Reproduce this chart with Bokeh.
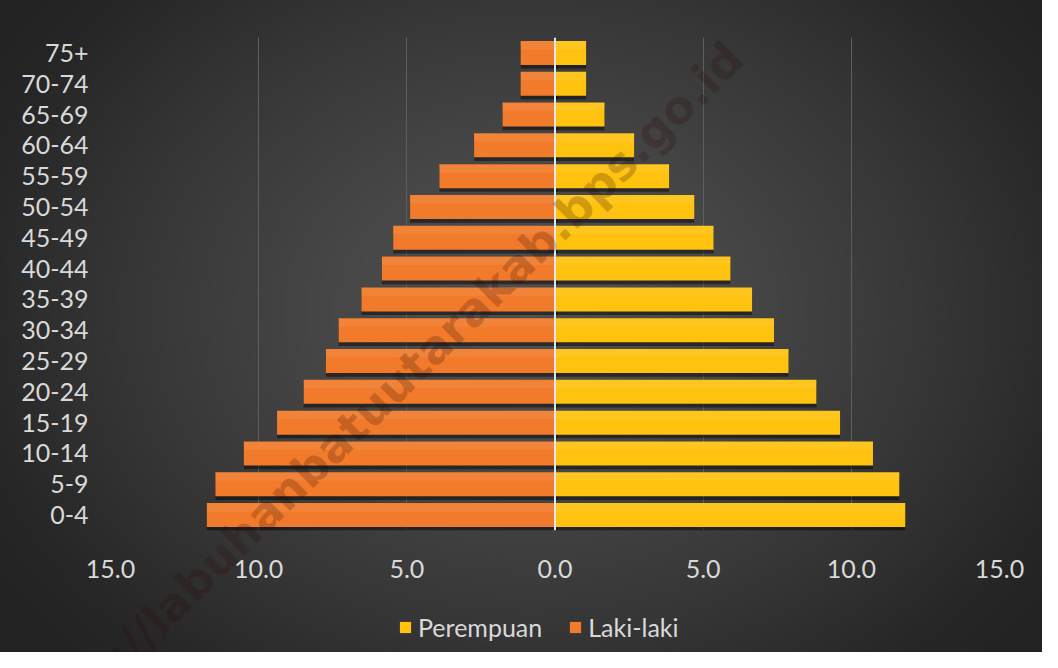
from bokeh.plotting import figure
from bokeh.layouts import column
from bokeh.models import (ColumnDataSource, FactorRange, Range1d, FixedTicker,
                          CustomJSTickFormatter, Span, Legend, LegendItem, Label)
from bokeh.transform import dodge
from bokeh.embed import file_html
from bokeh.resources import INLINE

# ---- data (percent of population) ----
age_groups = ["0-4", "5-9", "10-14", "15-19", "20-24", "25-29", "30-34", "35-39",
              "40-44", "45-49", "50-54", "55-59", "60-64", "65-69", "70-74", "75+"]
laki_laki = [11.75, 11.46, 10.50, 9.38, 8.48, 7.73, 7.30, 6.53,
             5.84, 5.46, 4.89, 3.90, 2.73, 1.77, 1.16, 1.16]
perempuan = [11.82, 11.62, 10.73, 9.62, 8.82, 7.88, 7.39, 6.65,
             5.92, 5.35, 4.70, 3.85, 2.67, 1.67, 1.05, 1.05]
x_ticks = [-15, -10, -5, 0, 5, 10, 15]
series_names = ["Perempuan", "Laki-laki"]
watermark = "https://labuhanbatuutarakab.bps.go.id"

FONT = "Lato"
TXT = "#d9d9d9"
ORANGE = "#f27b2b"
YELLOW = "#ffc20e"
W, H = 1042, 652
LEFT, RIGHT, TOP, BOTTOM = 110, 43, 37, 122

src = ColumnDataSource(dict(
    age=age_groups,
    male_left=[-v for v in laki_laki],
    female_right=perempuan,
))

p = figure(width=W, height=H, output_backend="svg", toolbar_location=None,
           y_range=FactorRange(factors=age_groups, range_padding=0),
           x_range=Range1d(-15, 15))
p.min_border_left = LEFT
p.min_border_right = RIGHT
p.min_border_top = TOP
p.min_border_bottom = BOTTOM
p.background_fill_alpha = 0
p.border_fill_alpha = 0
p.outline_line_color = None
p.styles = {"background": "radial-gradient(ellipse 62% 78% at 51% 48%, #4f4f4f 0%, #474747 30%, #363636 62%, #262626 88%, #222222 100%)"}

# shadows
p.hbar(y=dodge("age", -0.12, range=p.y_range), left="male_left", right=0.08, height=0.78,
       source=src, fill_color="black", fill_alpha=0.45, line_color=None)
p.hbar(y=dodge("age", -0.12, range=p.y_range), left=0, right="female_right", height=0.78,
       source=src, fill_color="black", fill_alpha=0.45, line_color=None)

r_m = p.hbar(y="age", left="male_left", right=0, height=0.78, source=src,
             fill_color=ORANGE, line_color=None)
r_f = p.hbar(y="age", left=0, right="female_right", height=0.78, source=src,
             fill_color=YELLOW, line_color=None)
# subtle top highlight
p.hbar(y=dodge("age", 0.25, range=p.y_range), left="male_left", right=0, height=0.26, source=src,
       fill_color="white", fill_alpha=0.07, line_color=None)
p.hbar(y=dodge("age", 0.25, range=p.y_range), left=0, right="female_right", height=0.26, source=src,
       fill_color="white", fill_alpha=0.07, line_color=None)

p.add_layout(Span(location=0, dimension="height", line_color="#dce6f2", line_width=2))

# axes
p.xaxis.ticker = FixedTicker(ticks=x_ticks)
p.xaxis.formatter = CustomJSTickFormatter(code="return Math.abs(tick).toFixed(1);")
for ax in (p.xaxis[0], p.yaxis[0]):
    ax.axis_line_color = None
    ax.major_tick_line_color = None
    ax.minor_tick_line_color = None
    ax.major_label_text_color = TXT
    ax.major_label_text_font = FONT
    ax.major_label_text_font_size = "25px"
p.xaxis.major_label_standoff = 23
p.yaxis.major_label_standoff = 16

p.ygrid.grid_line_color = None
p.xgrid.ticker = FixedTicker(ticks=[-15, -10, -5, 5, 10, 15])
p.xgrid.grid_line_color = "#5e5e5e"
p.xgrid.grid_line_width = 1

# transparent overlay canvas carrying the legend and the diagonal watermark
ov = figure(width=W, height=H, output_backend="svg", toolbar_location=None,
            x_range=Range1d(0, 1), y_range=Range1d(0, 1),
            x_axis_location=None, y_axis_location=None)
ov.min_border_left = LEFT      # column aligns frame edges with the chart anyway
ov.min_border_right = RIGHT
ov.min_border_top = 0
ov.min_border_bottom = 0
ov.grid.visible = False
ov.background_fill_alpha = 0
ov.border_fill_alpha = 0
ov.outline_line_color = None

# legend proxies (one point each, placed outside the visible range)
lf = ov.hbar(y=[-5], left=[0], right=[0.1], height=0.5, fill_color=YELLOW, line_color=None)
lm = ov.hbar(y=[-5], left=[0], right=[0.1], height=0.5, fill_color=ORANGE, line_color=None)
legend = Legend(items=[LegendItem(label=series_names[0], renderers=[lf]),
                       LegendItem(label=series_names[1], renderers=[lm])],
                orientation="horizontal", location=(398 - LEFT, 10),
                background_fill_alpha=0, border_line_color=None,
                label_text_color=TXT, label_text_font=FONT, label_text_font_size="25px",
                glyph_width=14, glyph_height=14, label_standoff=6, spacing=26,
                padding=0, margin=0)
ov.add_layout(legend, "center")

ov.add_layout(Label(x=375 - LEFT, y=H - 404, x_units="screen", y_units="screen", text=watermark,
                    angle=44.5, angle_units="deg", text_align="center", text_baseline="middle",
                    text_font="DejaVu Sans", text_font_style="bold", text_font_size="46px",
                    text_color="#2a0800", text_alpha=0.22))
ov.styles = {"position": "absolute", "top": "0px", "left": "0px",
             "pointer-events": "none", "z-index": "5"}

layout = column(p, ov)
layout.styles = {"position": "relative"}

open("out.html", "w").write(file_html(layout, INLINE))
